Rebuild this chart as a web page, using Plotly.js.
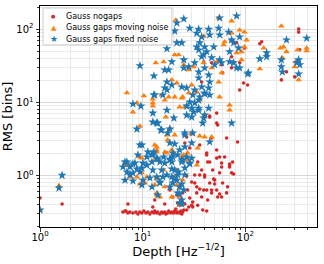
<!DOCTYPE html>
<html><head><meta charset="utf-8">
<script src="https://cdn.plot.ly/plotly-3.0.1.min.js"></script>
<style>html,body{margin:0;padding:0;background:#fff}#chart{width:324px;height:264px}</style>
</head><body><div id="chart"></div>
<script>
const nogapsDepth=[1.0,1.64,6.72,7.18,13.1,
6.42,6.87,7.18,7.51,8.03,8.59,8.98,9.39,9.82,10.27,10.74,11.23,11.74,12.3,12.84,13.1,13.7,14.0,14.7,15.3,15.7,16.4,16.8,17.5,17.9,18.8,19.2,20.1,20.5,21.5,21.9,22.9,23.5,24.5,25.1,12.55,21.0,
26.8,30.7,34.3,38.4,42.0,18.4,19.6,21.5,21.9,24.0,24.5,27.4,28.7,30.0,30.7,32.1,33.6,33.6,35.9,37.5,40.1,42.0,42.9,44.9,46.9,48.0,50.2,52.5,53.7,56.1,58.7,60.0,62.8,65.6,67.1,70.2,73.4,52.5,44.9,42.0,75.1,
65.6,83.9,52.5,56.1,58.7,70.2,70.2,76.8,37.5,40.1,49.1,50.2,32.1,30.0,35.9,39.2,46.9,56.1,58.7,25.7,16.4,24.0,28.1,
26.8,25.7,28.7,35.9,44.9,46.9,42.0,52.5,34.3,42.9,52.5,26.8,
330,330,144,138,98,82,161,161,338,251,224,88,96,105,88,73.4,58.7,46.9,44.9,53.7,37.5,39.2,73.4,60,302];
const nogapsRms=[0.49,0.405,0.325,0.405,0.46,
0.315,0.325,0.305,0.315,0.305,0.315,0.295,0.315,0.305,0.325,0.305,0.315,0.295,0.315,0.305,0.325,0.305,0.315,0.295,0.315,0.305,0.315,0.295,0.305,0.325,0.305,0.315,0.305,0.325,0.305,0.315,0.305,0.325,0.315,0.335,0.368,0.345,
0.335,0.368,0.39,0.335,0.325,0.63,0.505,0.54,0.418,0.46,0.575,0.63,0.49,0.39,0.43,0.785,0.575,0.695,1.01,0.505,0.95,0.63,0.46,0.785,0.575,1.18,0.86,0.63,0.505,1.08,1.47,0.785,1.78,0.575,0.695,1.38,1.08,1.72,1.52,1.9,1.52,
3.24,2.86,2.22,1.78,1.30,1.43,1.30,1.04,1.18,1.01,0.89,0.76,1.01,0.81,0.65,0.63,0.63,0.555,0.505,0.405,0.405,0.295,0.368,
3.34,2.77,2.36,2.6,6.26,3.24,2.02,7.1,1.52,1.52,5.18,0.98,
100,91,67,63,55,65,47.5,43,52,26,20.2,34.6,18.3,17.2,14.7,29.5,32.5,34.6,6.46,4.87,18.9,35.7,41.8,25.2,22.2];

const movingDepth=[1.53,1.0,7.02,8.78,8.03,9.39,10.27,13.4,12.55,12.55,12.55,15.3,
54.9,73.4,224,98,73.4,39.2,22.4,20.5,16.0,25.1,31.4,28.1,39.2,46.9,52.5,61.4,62.8,102.6,91.8,91.8,82.1,151,138,235,251,302,330,395,395,
19.2,21.5,30.0,33.6,28.1,20.5,24.0,35.9,56.1,54.9,58.7,17.9,22.9,25.7,40.1,70.2,70.2,18.4,16.4,87.8,219,323,229,309,73.4,98.2,21.0,
24.5,16.8,30.0,17.5,13.7,13.7,16.4,19.2,9.82,34.3,24.0,
9.39,7.18,8.78,9.39,10.98,13.1,12.55,13.1,14.0,13.1,13.7,13.7,17.2,27.4,6.72,9.82,13.7,13.7,14.7,22.9,21.5,24.5,27.4,33.6,10.5,16.4,19.2,22.9,7.51,
17.2,20.5,30.0,35.9,40.1,46.9,20.1,25.1,16.0,20.5,21.5,22.9,24.0];
const movingRms=[0.72,0.335,13.4,9.75,7.33,4.72,12.2,34.6,11.05,9.75,8.85,12.55,
142,129,110,91,88,80,44.5,44.5,35.7,32.5,30.5,27.7,34.6,29.5,35.7,61,67,71,38,49,47.5,55,28.6,57,49,30.5,20.2,55,50.5,
20.2,18.3,17.2,13.8,13.4,11.8,11.4,10.7,11.8,18.9,25.2,11.8,8.6,8.6,6.67,9.15,7.8,4.43,10.7,97,55,52,40.5,35.7,71,57,133,
11.8,6.26,3.79,3.04,2.44,2.22,2.08,2.22,1.72,2.36,1.78,
1.78,1.38,0.95,0.76,0.95,2.6,1.96,1.62,0.89,0.74,0.54,2.08,2.02,2.02,1.38,1.08,0.95,0.575,0.505,0.67,1.18,0.86,1.62,1.38,0.785,0.695,0.505,0.39,0.95,
3.56,3.56,3.67,3.45,3.34,3.34,2.02,1.9,1.18,0.95,0.74,0.505,0.405];

const fixedDepth=[1.0,1.53,1.64,9.39,12.84,8.03,9.60,12.84,12.55,12.55,13.7,8.78,15.0,
82.1,56.1,25.1,21.5,20.5,28.7,35.1,43.9,54.9,33.6,37.5,44.9,56.1,73.4,87.8,68.6,21.5,24.0,17.2,33.6,40.1,49.1,35.1,42.0,39.2,70.2,85.8,76.8,35.9,37.5,25.1,19.2,32.1,46.9,56.1,58.7,50.2,70.2,76.8,82.1,87.8,107,
35.1,40.1,43.9,44.9,35.1,28.1,25.1,17.9,16.4,17.2,16.4,17.2,19.2,24.0,26.8,32.1,37.5,43.9,40.1,35.9,35.1,28.7,30.0,35.1,31.4,26.8,30.0,39.2,43.9,20.1,17.2,73.4,
138,161,224,224,229,251,330,316,330,395,161,338,105,
14.0,15.3,17.5,18.4,25.7,30.7,38.4,40.1,26.8,35.1,32.1,40.1,44.9,30.7,15.7,13.1,9.82,12.55,18.4,19.6,22.9,30.0,24.5,19.2,7.02,
9.39,6.42,6.72,7.51,8.03,8.78,8.03,9.39,9.82,10.98,12.3,12.55,13.7,14.7,14.0,12.84,6.72,7.51,8.40,7.02,8.03,9.82,10.04,10.98,12.3,13.7,14.7,16.4,18.4,19.6,21.9,24.0,26.8,28.7,
15.3,17.2,19.2,19.6,21.5,22.9,11.74,10.04,12.3,14.0,24.0,22.9,21.9,18.4,14.7,15.7,8.98,11.23,20.5,25.7,21.9,
25.7,44.9,20.5,25.7,16.0,18.4,24.0,30.0,28.7,19.2,22.4,25.7,20.1,24.0,25.1,22.9,24.0];
const fixedRms=[0.335,0.67,1.0,31.5,22.9,9.45,8.85,12.55,7.1,5.35,5.18,4.29,4.16,
151,142,138,121,94,103,100,100,103,88,78,83,83,71,78,91,65,65,54,57,57,57,52,49,44.5,49,55,65,65,41.8,38,35.7,34.6,40.5,38,34.6,32.5,35.7,34.6,29.5,29.5,25.2,
26.0,29.5,23.6,18.9,21.5,30.5,29.5,27.7,27.7,18.9,15.7,14.7,17.2,16.2,15.7,14.7,16.2,15.7,13.4,11.8,10.7,10.05,8.3,8.3,7.33,6.67,6.26,6.07,8.3,6.07,7.8,5.18,
39.2,47.5,38,30.5,26.0,71,38,34.6,24.4,75,41.8,32.5,24.4,
5.18,4.16,3.79,4.29,3.79,3.79,5.18,6.67,8.85,7.8,9.75,12.95,12.55,12.55,12.55,12.55,2.6,1.96,2.77,2.02,2.22,2.77,1.62,1.52,1.52,
2.6,1.30,0.86,1.01,1.43,1.22,0.84,1.11,0.74,1.38,1.52,1.18,0.95,0.81,1.67,2.08,1.52,1.30,1.47,1.11,1.08,1.26,1.47,1.78,1.9,1.72,1.52,1.47,1.62,1.78,1.9,1.52,1.78,1.47,
1.18,1.01,0.95,0.785,0.86,0.695,0.92,0.86,0.695,0.54,0.46,0.418,0.575,0.695,0.785,0.95,1.9,2.08,1.18,1.26,1.01,
3.56,2.86,2.68,2.44,1.78,1.67,1.62,1.72,1.43,1.22,1.11,1.01,0.89,0.76,0.63,0.555,0.405];

const seriesNames=['Gauss nogaps','Gauss gaps moving noise','Gauss gaps fixed noise'];
const seriesColors=['#d62728','#ff7f0e','#1f77b4'];
const majorTicks=[1,10,100];
const majorTickText=['10<sup>0</sup>','10<sup>1</sup>','10<sup>2</sup>'];

function minorVals(lo,hi){const v=[];for(let e=lo;e<=hi;e++){for(let m=2;m<=9;m++){v.push(m*Math.pow(10,e));}}return v;}
const FONT='DejaVu Sans, sans-serif';

const traces=[
 {x:nogapsDepth,y:nogapsRms,mode:'markers',type:'scatter',name:seriesNames[0],marker:{color:seriesColors[0],size:3.6,symbol:'circle'}},
 {x:movingDepth,y:movingRms,mode:'markers',type:'scatter',name:seriesNames[1],marker:{color:seriesColors[1],size:5.8,symbol:'triangle-up'}},
 {x:fixedDepth,y:fixedRms,mode:'markers',type:'scatter',name:seriesNames[2],marker:{color:seriesColors[2],size:6.8,symbol:'star'}}
];

function axisBase(){return {type:'log',tickmode:'array',tickvals:majorTicks,ticktext:majorTickText,ticks:'outside',ticklen:3.5,tickwidth:0.8,tickcolor:'#000',
 showline:true,mirror:true,linecolor:'#000',linewidth:1,showgrid:true,gridcolor:'#cfcfcf',gridwidth:0.8,zeroline:false,automargin:false,
 tickfont:{family:FONT,size:10,color:'#000'}};}
const xa=axisBase(); xa.range=[0,2.697]; xa.ticklabelstandoff=-3; xa.minor={tickmode:'array',tickvals:minorVals(0,2),ticks:'outside',ticklen:2,tickcolor:'#000',showgrid:true,gridcolor:'#e2e2e2',gridwidth:0.7};
xa.title={text:'Depth [Hz<sup>−1/2</sup>]',font:{family:FONT,size:13,color:'#000'},standoff:0};
const ya=axisBase(); ya.range=[-0.707,2.316]; ya.minor={tickmode:'array',tickvals:minorVals(-1,2),ticks:'outside',ticklen:2,tickcolor:'#000',showgrid:true,gridcolor:'#e2e2e2',gridwidth:0.7};
ya.title={text:'RMS [bins]',font:{family:FONT,size:13,color:'#000'},standoff:1};

const legRowsY=[0.953,0.901,0.849];
const legGlyphs=['●','▲','★'];
const legGlyphSize=[5,7,9];
const annotations=[];
for(let i=0;i<3;i++){
 annotations.push({xref:'paper',yref:'paper',x:0.0505,y:legRowsY[i],text:legGlyphs[i],showarrow:false,xanchor:'center',yanchor:'middle',borderpad:0,font:{family:FONT,size:legGlyphSize[i],color:seriesColors[i]}});
 annotations.push({xref:'paper',yref:'paper',x:0.092,y:legRowsY[i],text:seriesNames[i],showarrow:false,xanchor:'left',yanchor:'middle',borderpad:0,font:{family:FONT,size:8,color:'#000'}});
}
const layout={width:324,height:264,margin:{l:40,r:7,t:6,b:37},paper_bgcolor:'#fff',plot_bgcolor:'#fff',showlegend:false,
 xaxis:xa,yaxis:ya,annotations:annotations,
 shapes:[{type:'rect',xref:'paper',yref:'paper',x0:0.011,x1:0.476,y0:0.824,y1:0.991,fillcolor:'rgba(255,255,255,0.8)',line:{color:'#cccccc',width:1},layer:'above'}],
 font:{family:FONT}};
Plotly.newPlot('chart',traces,layout,{staticPlot:true,displayModeBar:false});
</script></body></html>
